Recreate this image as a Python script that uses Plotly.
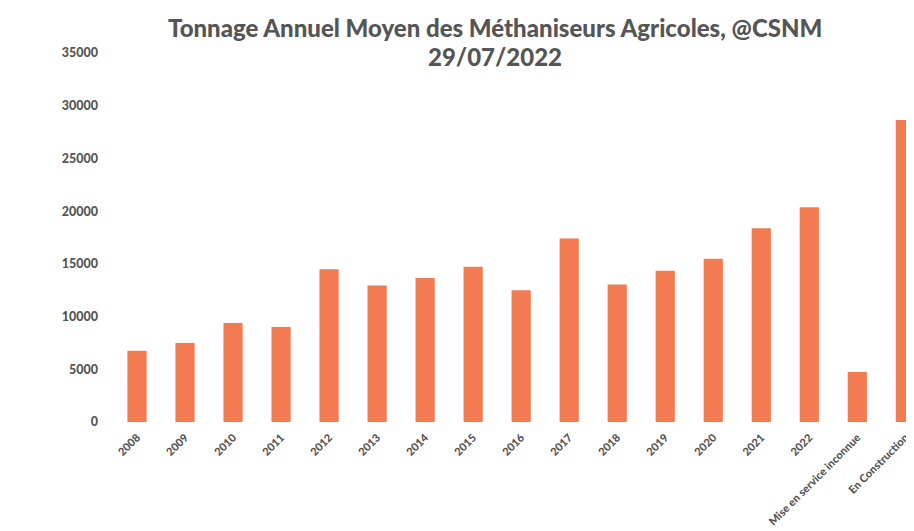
import plotly.graph_objects as go

categories = ["2008", "2009", "2010", "2011", "2012", "2013", "2014", "2015",
              "2016", "2017", "2018", "2019", "2020", "2021", "2022",
              "Mise en service inconnue", "En Construction"]
tonnage = [6750, 7500, 9400, 9020, 14500, 12950, 13650, 14720,
           12500, 17400, 13050, 14340, 15480, 18370, 20360,
           4750, 28650]
y_ticks = [0, 5000, 10000, 15000, 20000, 25000, 30000, 35000]
title_lines = ["Tonnage Annuel Moyen des Méthaniseurs Agricoles, @CSNM", "29/07/2022"]

W, H = 914, 531
OFF = 8  # page body margin

fig = go.Figure(go.Bar(
    x=categories, y=tonnage,
    marker=dict(color="#F37B52", line=dict(width=0)),
    width=0.4,
))

grey = "#555555"
fig.update_layout(
    width=W, height=H,
    paper_bgcolor="white", plot_bgcolor="white",
    margin=dict(l=113 - OFF, r=OFF, t=53 - OFF, b=H - (422 - OFF)),
    showlegend=False,
    font=dict(family="Lato", color=grey),
)
for i, (txt, ypix) in enumerate(zip(title_lines, [27, 57])):
    fig.add_annotation(
        text=txt, showarrow=False,
        xref="paper", yref="paper",
        x=(495 - 113) / (914 - 113), xanchor="center",
        y=1 + (53 - ypix) / (422 - 53), yanchor="middle",
        font=dict(family="Lato", size=24, color=grey, weight=900),
    )
fig.update_xaxes(
    range=[-0.5, 16.18],
    tickangle=-45,
    tickfont=dict(family="Lato", size=11, color=grey, weight=900),
    showgrid=False, showline=False, zeroline=False, ticks="",
    ticklabelstandoff=6,
)
fig.update_yaxes(
    range=[0, 35000],
    tickvals=y_ticks,
    ticktext=[str(v) for v in y_ticks],
    tickfont=dict(family="Lato", size=12.5, color=grey, weight=900),
    showgrid=False, showline=False, zeroline=False, ticks="",
    ticklabelstandoff=14,
)

fig.write_html("out.html")
